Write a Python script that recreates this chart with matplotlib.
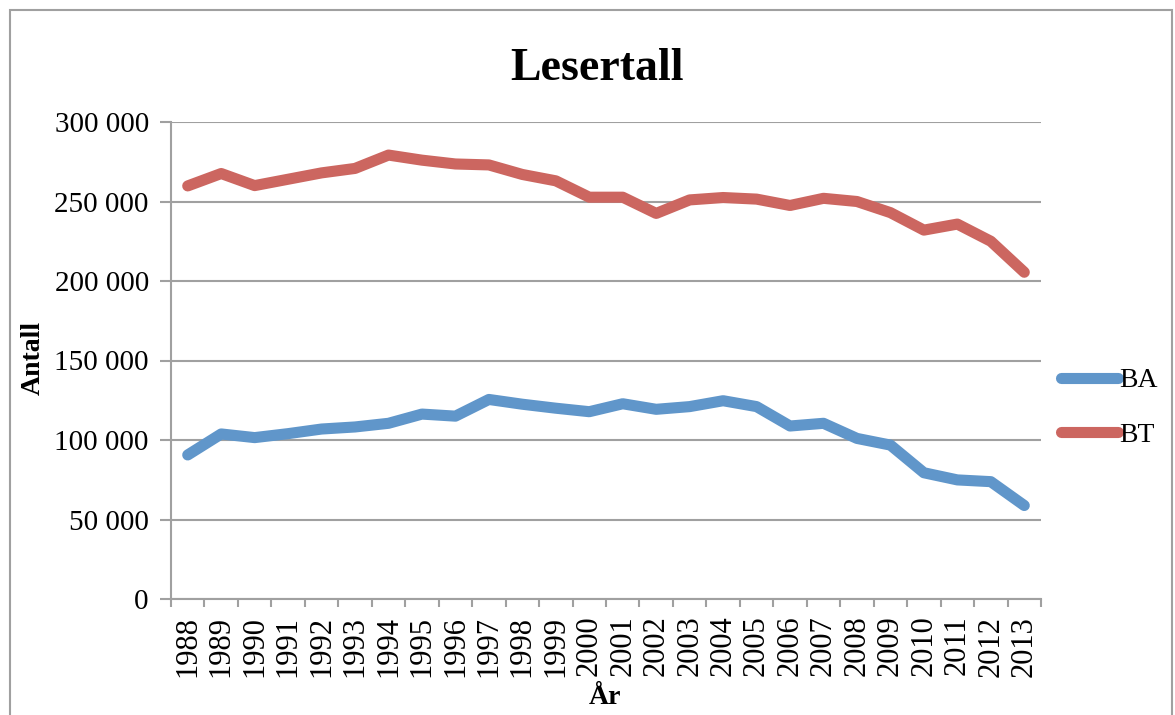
import matplotlib
matplotlib.use('Agg')
import matplotlib.pyplot as plt
from matplotlib.patches import Rectangle
from matplotlib.ticker import FuncFormatter, FixedLocator
import numpy as np

# Lesertall per år
years = list(range(1988, 2014))
ba = [90600, 103800, 101500, 104000, 106900, 108200, 110500, 116300, 115000, 125500,
      122500, 120000, 117800, 122800, 119300, 121000, 124700, 121000, 108800, 110500,
      101000, 96800, 79400, 74900, 73800, 58800]
bt = [259800, 267600, 260000, 264000, 268000, 270800, 279200, 276000, 273600, 273000,
      267000, 263000, 252700, 252700, 242500, 251000, 252500, 251500, 247500, 252000,
      250000, 243000, 232000, 235800, 225000, 205500]

plt.rcParams['font.family'] = ['Liberation Serif', 'DejaVu Serif']

W, H = 1175, 715
fig = plt.figure(figsize=(W / 100, H / 100), dpi=100)
ax = fig.add_axes([171/W, 116/H, 870/W, 477/H])

x = np.arange(len(years))
ax.plot(x, ba, color='#6096CA', lw=8, label='BA', solid_capstyle='round')
ax.plot(x, bt, color='#CC6660', lw=8, label='BT', solid_capstyle='round')

ax.set_xlim(-0.5, len(years) - 0.5)
ax.set_ylim(0, 300000)
ax.set_yticks(range(0, 300001, 50000))
ax.yaxis.set_major_formatter(FuncFormatter(lambda v, p: f'{int(v):,}'.replace(',', ' ')))
ax.yaxis.grid(True, color='#A0A0A0', lw=1.5)
ax.set_axisbelow(True)

ax.set_xticks(x)
ax.set_xticklabels([str(y) for y in years], rotation=90)
ax.xaxis.set_minor_locator(FixedLocator(np.arange(-0.5, len(years), 1.0)))
ax.tick_params(axis='x', which='major', length=0, pad=12, labelsize=22)
ax.tick_params(axis='x', which='minor', length=6, width=1.5, color='#A0A0A0')
ax.tick_params(axis='y', length=8, width=1.5, color='#A0A0A0', labelsize=21, pad=8)

for s in ['top', 'right']:
    ax.spines[s].set_visible(False)
for s in ['left', 'bottom']:
    ax.spines[s].set_color('#A0A0A0')
    ax.spines[s].set_linewidth(1.5)

fig.text(597/W, 1 - 69/H, 'Lesertall', fontsize=33, fontweight='bold', ha='center', va='center')
fig.text(33/W, 1 - 358/H, 'Antall', fontsize=20, fontweight='bold', rotation=90,
         ha='center', va='center')
fig.text(605/W, 1 - 698/H, 'År', fontsize=20, fontweight='bold', ha='center', va='center')

fig.legend(loc='center left', bbox_to_anchor=(1036/W, 1 - 408/H), frameon=False,
           fontsize=20, handlelength=2.05, handletextpad=0.05, labelspacing=1.05)

fig.add_artist(Rectangle((10/W, -0.01), 1162/W, 1.0 - 10/H + 0.01,
                         transform=fig.transFigure, fill=False, edgecolor='#A0A0A0', lw=1.5))

fig.savefig('out.png', dpi=100)
